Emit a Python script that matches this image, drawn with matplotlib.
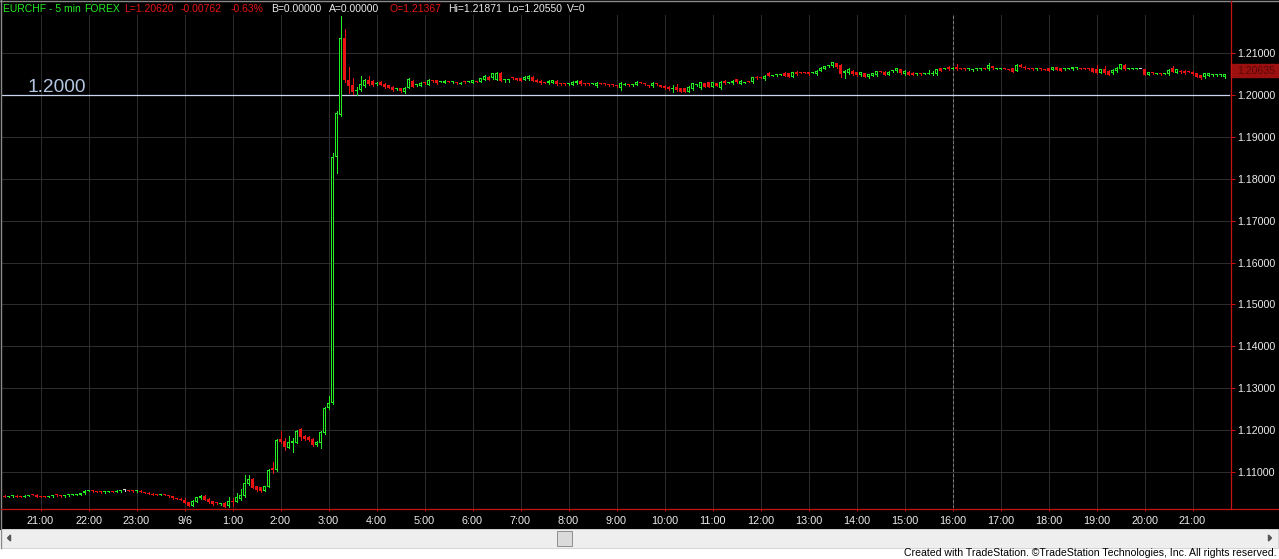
import numpy as np
import pandas as pd
import matplotlib
matplotlib.use("Agg")
import matplotlib.pyplot as plt
from matplotlib import font_manager
from matplotlib.patches import Rectangle, Polygon
from matplotlib.transforms import blended_transform_factory

W, H = 1279, 559
PIP = 0.0001
BASE = 1.1

# EURCHF 5 min bars, prices in pips above 1.1000
opens = [
    44, 42, 43, 44, 42, 41, 44, 48, 47, 42, 42, 41, 43, 46, 45, 43, 45, 46, 46, 47,
    50, 56, 57, 55, 53, 52, 53, 55, 54, 55, 57, 57, 56, 55, 56, 53, 51, 49, 47, 46,
    47, 46, 43, 38, 37, 35, 29, 20, 30, 38, 44, 36, 31, 27, 24, 28, 19, 30, 30, 36,
    44, 72, 84, 67, 65, 56, 65, 110, 105, 179, 175, 158, 170, 171, 203, 187, 184, 179, 165, 170,
    194, 253, 265, 851, 951, 1135, 1035, 1023, 1008, 1011, 1021, 1035, 1032, 1026, 1031, 1025, 1023, 1019, 1014, 1015,
    1007, 1017, 1033, 1022, 1021, 1029, 1023, 1034, 1035, 1030, 1028, 1031, 1029, 1029, 1026, 1030, 1030, 1028, 1032, 1031,
    1035, 1043, 1039, 1035, 1051, 1036, 1036, 1040, 1039, 1039, 1035, 1037, 1043, 1036, 1033, 1029, 1027, 1028, 1033, 1026,
    1026, 1025, 1023, 1027, 1033, 1026, 1026, 1026, 1020, 1027, 1026, 1024, 1024, 1021, 1015, 1024, 1024, 1022, 1023, 1029,
    1026, 1021, 1020, 1026, 1023, 1021, 1019, 1014, 1019, 1015, 1015, 1007, 1013, 1022, 1015, 1027, 1029, 1019, 1027, 1015,
    1033, 1028, 1027, 1037, 1026, 1028, 1032, 1029, 1043, 1041, 1037, 1051, 1045, 1046, 1047, 1052, 1051, 1043, 1055, 1053,
    1053, 1054, 1052, 1049, 1057, 1062, 1068, 1068, 1075, 1071, 1051, 1051, 1057, 1053, 1046, 1051, 1041, 1045, 1046, 1055,
    1055, 1048, 1056, 1056, 1060, 1049, 1055, 1052, 1049, 1050, 1050, 1050, 1049, 1049, 1063, 1062, 1067, 1062, 1067, 1063,
    1061, 1060, 1058, 1060, 1060, 1063, 1060, 1068, 1062, 1061, 1063, 1060, 1063, 1057, 1071, 1067, 1063, 1061, 1060, 1061,
    1060, 1063, 1059, 1065, 1063, 1060, 1062, 1060, 1063, 1063, 1063, 1061, 1063, 1060, 1052, 1060, 1057, 1051, 1056, 1062,
    1071, 1062, 1061, 1061, 1061, 1060, 1048, 1052, 1050, 1050, 1050, 1049, 1063, 1052, 1057, 1057, 1055, 1055, 1051, 1047,
    1041, 1045, 1046, 1046, 1046, 1041,
]
highs = [
    45, 44, 45, 45, 43, 45, 46, 49, 48, 43, 43, 44, 47, 47, 46, 46, 47, 48, 48, 51,
    57, 59, 58, 56, 54, 54, 56, 56, 57, 57, 58, 58, 57, 57, 57, 54, 52, 50, 48, 48,
    48, 47, 44, 39, 38, 38, 30, 33, 42, 46, 46, 38, 32, 29, 27, 29, 41, 38, 50, 60,
    94, 94, 86, 68, 66, 68, 107, 125, 179, 198, 182, 187, 182, 201, 206, 189, 186, 181, 174, 198,
    255, 282, 860, 960, 1187, 1156, 1065, 1040, 1019, 1044, 1037, 1044, 1034, 1029, 1032, 1027, 1024, 1020, 1017, 1016,
    1018, 1039, 1035, 1025, 1030, 1030, 1038, 1036, 1036, 1033, 1034, 1033, 1032, 1030, 1029, 1031, 1033, 1036, 1033, 1040,
    1046, 1044, 1052, 1054, 1053, 1038, 1038, 1041, 1040, 1040, 1044, 1046, 1044, 1037, 1034, 1030, 1034, 1036, 1034, 1027,
    1027, 1027, 1032, 1034, 1034, 1027, 1027, 1028, 1029, 1028, 1027, 1025, 1025, 1022, 1030, 1027, 1025, 1025, 1032, 1030,
    1027, 1022, 1030, 1027, 1024, 1022, 1020, 1023, 1025, 1016, 1016, 1020, 1028, 1025, 1031, 1028, 1030, 1030, 1028, 1032,
    1035, 1030, 1035, 1038, 1035, 1030, 1033, 1042, 1044, 1042, 1046, 1054, 1048, 1048, 1049, 1053, 1052, 1054, 1056, 1054,
    1054, 1055, 1054, 1058, 1065, 1069, 1070, 1079, 1076, 1072, 1058, 1063, 1058, 1054, 1054, 1052, 1050, 1052, 1057, 1056,
    1056, 1056, 1058, 1064, 1061, 1058, 1056, 1053, 1051, 1051, 1052, 1058, 1056, 1062, 1064, 1064, 1068, 1066, 1072, 1064,
    1062, 1062, 1060, 1062, 1062, 1064, 1075, 1069, 1064, 1063, 1064, 1061, 1064, 1072, 1072, 1068, 1064, 1062, 1062, 1062,
    1061, 1064, 1066, 1066, 1064, 1062, 1064, 1066, 1065, 1064, 1064, 1062, 1064, 1071, 1061, 1068, 1058, 1060, 1065, 1074,
    1072, 1064, 1063, 1063, 1062, 1061, 1055, 1053, 1052, 1051, 1052, 1060, 1068, 1061, 1058, 1058, 1056, 1056, 1052, 1048,
    1052, 1052, 1048, 1048, 1048, 1050,
]
lows = [
    41, 41, 42, 41, 40, 40, 43, 46, 41, 40, 40, 40, 42, 44, 42, 42, 44, 45, 45, 46,
    49, 55, 54, 52, 51, 51, 52, 53, 53, 54, 56, 55, 54, 54, 52, 50, 48, 46, 45, 45,
    45, 42, 37, 36, 34, 26, 19, 19, 29, 37, 33, 28, 23, 24, 23, 16, 18, 20, 29, 35,
    42, 70, 62, 56, 54, 55, 64, 98, 104, 170, 153, 157, 148, 170, 177, 178, 175, 163, 163, 158,
    192, 251, 262, 813, 948, 1030, 1003, 1001, 999, 1009, 1019, 1024, 1021, 1024, 1022, 1017, 1016, 1009, 1012, 1007,
    1005, 1016, 1018, 1021, 1020, 1026, 1022, 1031, 1026, 1029, 1027, 1029, 1028, 1026, 1025, 1027, 1029, 1027, 1029, 1030,
    1034, 1034, 1038, 1034, 1032, 1031, 1031, 1037, 1034, 1032, 1034, 1036, 1032, 1030, 1026, 1027, 1026, 1027, 1024, 1024,
    1024, 1024, 1022, 1026, 1024, 1024, 1023, 1025, 1019, 1025, 1024, 1021, 1021, 1019, 1012, 1023, 1021, 1021, 1022, 1027,
    1024, 1019, 1019, 1023, 1018, 1014, 1012, 1007, 1009, 1006, 1006, 1006, 1012, 1021, 1013, 1018, 1018, 1018, 1020, 1014,
    1026, 1027, 1026, 1028, 1025, 1027, 1030, 1028, 1038, 1039, 1036, 1044, 1044, 1045, 1046, 1044, 1042, 1042, 1048, 1051,
    1051, 1048, 1051, 1048, 1056, 1061, 1067, 1067, 1064, 1041, 1039, 1050, 1048, 1045, 1045, 1042, 1040, 1044, 1045, 1053,
    1047, 1047, 1055, 1055, 1050, 1048, 1047, 1047, 1048, 1048, 1049, 1049, 1048, 1048, 1056, 1061, 1059, 1061, 1059, 1061,
    1059, 1059, 1057, 1059, 1059, 1061, 1059, 1062, 1061, 1060, 1061, 1058, 1054, 1056, 1066, 1062, 1061, 1059, 1059, 1059,
    1058, 1056, 1058, 1058, 1056, 1059, 1061, 1059, 1062, 1061, 1061, 1059, 1054, 1050, 1051, 1050, 1047, 1050, 1055, 1061,
    1059, 1061, 1060, 1060, 1060, 1046, 1047, 1050, 1049, 1048, 1049, 1048, 1054, 1051, 1052, 1050, 1053, 1048, 1042, 1038,
    1040, 1044, 1045, 1045, 1045, 1040,
]
closes = [
    42, 43, 44, 42, 41, 44, 45, 47, 42, 41, 41, 43, 46, 45, 43, 45, 46, 47, 47, 50,
    56, 57, 55, 53, 52, 53, 55, 54, 56, 56, 57, 56, 55, 56, 53, 51, 49, 47, 46, 47,
    46, 43, 38, 37, 35, 28, 20, 32, 41, 44, 34, 29, 25, 26, 25, 18, 32, 29, 42, 46,
    74, 84, 63, 58, 56, 67, 105, 105, 177, 172, 160, 173, 175, 199, 184, 180, 177, 165, 172, 196,
    253, 265, 851, 956, 1135, 1035, 1020, 1007, 1012, 1025, 1035, 1025, 1023, 1027, 1023, 1019, 1017, 1011, 1015, 1009,
    1017, 1037, 1019, 1023, 1028, 1028, 1036, 1033, 1027, 1031, 1033, 1030, 1030, 1028, 1027, 1029, 1031, 1035, 1031, 1039,
    1044, 1035, 1051, 1052, 1033, 1037, 1037, 1039, 1035, 1033, 1043, 1044, 1033, 1031, 1027, 1028, 1033, 1035, 1025, 1025,
    1025, 1026, 1031, 1033, 1025, 1025, 1025, 1027, 1028, 1026, 1025, 1023, 1023, 1020, 1028, 1025, 1023, 1023, 1031, 1028,
    1025, 1020, 1028, 1025, 1019, 1015, 1013, 1015, 1010, 1007, 1007, 1019, 1027, 1023, 1029, 1019, 1019, 1029, 1021, 1031,
    1027, 1029, 1033, 1029, 1033, 1029, 1031, 1041, 1039, 1040, 1045, 1045, 1046, 1047, 1048, 1045, 1043, 1053, 1049, 1052,
    1052, 1049, 1053, 1057, 1064, 1068, 1069, 1078, 1065, 1049, 1057, 1060, 1049, 1046, 1053, 1043, 1049, 1051, 1056, 1054,
    1048, 1055, 1057, 1063, 1051, 1057, 1048, 1048, 1050, 1049, 1051, 1051, 1050, 1061, 1057, 1063, 1060, 1063, 1060, 1062,
    1060, 1061, 1059, 1061, 1061, 1062, 1070, 1063, 1063, 1062, 1062, 1059, 1055, 1071, 1067, 1063, 1062, 1060, 1061, 1060,
    1059, 1057, 1065, 1059, 1057, 1061, 1063, 1065, 1064, 1062, 1062, 1060, 1055, 1051, 1060, 1051, 1048, 1059, 1064, 1073,
    1060, 1063, 1062, 1062, 1061, 1047, 1054, 1051, 1051, 1049, 1051, 1059, 1055, 1060, 1053, 1051, 1054, 1049, 1043, 1039,
    1051, 1051, 1047, 1047, 1047, 1049,
]

first_bar = "2011-09-05 20:15"
session_break = "2011-09-06 16:00"
price_ticks = [1.11, 1.12, 1.13, 1.14, 1.15, 1.16, 1.17, 1.18, 1.19, 1.20, 1.21]
peg_level = 1.2
peg_label = "1.2000"
last_label = "1.20635"
last_label_price = 1.2057

GREEN = "#22ee22"
RED = "#e81414"
AXRED = "#c41414"
WHITE = "#ececec"

header = [
    ("EURCHF - 5 min", 3, GREEN),
    ("FOREX", 84, GREEN),
    ("L=1.20620", 124, RED),
    ("-0.00762", 181, RED),
    ("-0.63%", 231, RED),
    ("B=0.00000", 271, WHITE),
    ("A=0.00000", 329, WHITE),
    ("O=1.21367", 389, RED),
    ("Hi=1.21871", 448, WHITE),
    ("Lo=1.20550", 507, WHITE),
    ("V=0", 567, WHITE),
]
credit = "Created with TradeStation. \u00a9TradeStation Technologies, Inc. All rights reserved."

plt.rcParams["font.family"] = ["Liberation Sans", "DejaVu Sans"]
names = {f.name for f in font_manager.fontManager.ttflist}
narrow = "Liberation Sans Narrow" if "Liberation Sans Narrow" in names else "Liberation Sans"

o = BASE + np.array(opens) * PIP
h = BASE + np.array(highs) * PIP
l = BASE + np.array(lows) * PIP
c = BASE + np.array(closes) * PIP
n = len(c)
idx = np.arange(n)
times = pd.date_range(first_bar, periods=n, freq="5min")

fig = plt.figure(figsize=(W / 100, H / 100), dpi=100)
fig.patch.set_facecolor("white")

# background layer in pixel coords
bg = fig.add_axes([0, 0, 1, 1], zorder=0)
bg.set_xlim(0, W)
bg.set_ylim(H, 0)
bg.axis("off")
bg.add_patch(Rectangle((0, 0), W, 528.5, color="black"))
bg.add_patch(Rectangle((1, 528.5), W - 2, 19, facecolor="#eeeeee", edgecolor="#d4d4d4", lw=0.7))
bg.add_patch(Rectangle((557, 530.5), 15, 15, facecolor="#dadada", edgecolor="#8e8e8e", lw=0.7))
bg.add_patch(Polygon([(7.5, 538), (10.5, 535), (10.5, 541)], color="#555555"))
bg.add_patch(Polygon([(1271.5, 538), (1268.5, 535), (1268.5, 541)], color="#555555"))

# chart area, 4 px per bar
ax = fig.add_axes([2 / W, (H - 508) / H, 1228 / W, 493 / H], zorder=1)
ax.set_facecolor("black")
ax.set_xlim(-0.625, 306.375)
ymin, ymax = 1.101492, 1.218985
ax.set_ylim(ymin, ymax)
px_y = (ymax - ymin) / 493  # one pixel in price units

hour_mask = times.minute == 0
hour_idx = idx[hour_mask]
hour_labels = [f"{t.month}/{t.day}" if t.hour == 0 else f"{t.hour}:00" for t in times[hour_mask]]
ax.set_xticks(hour_idx)
ax.set_xticklabels(hour_labels)
ax.set_yticks(price_ticks)
ax.set_yticklabels([f"{p:.5f}" for p in price_ticks])
ax.yaxis.tick_right()
ax.grid(True, color="#2c2c2c", lw=0.75, zorder=0)
ax.set_axisbelow(True)
for s in ax.spines.values():
    s.set_visible(False)
ax.tick_params(axis="y", length=3.6, width=0.75, color=AXRED, labelcolor=WHITE,
               labelsize=7.7, pad=1.5)
ax.tick_params(axis="x", length=2.5, width=0.75, color=AXRED, labelcolor=WHITE,
               labelsize=7.8, pad=3)

brk = idx[times == pd.Timestamp(session_break)][0]
ax.axvline(brk, color="#7a7a7a", lw=0.75, dashes=(3, 2), zorder=1)

# peg line and label
ax.axhline(peg_level, color="#c9d6f2", lw=0.9, zorder=2)
blend = blended_transform_factory(ax.transAxes, ax.transData)
ax.annotate(peg_label, xy=(0.0205, peg_level), xycoords=blend, xytext=(0, 1.8),
            textcoords="offset points", va="baseline", ha="left",
            color="#b4c6e2", fontsize=13.8)

# candles: hollow green up bars, filled red down bars
up = c > o
down = c < o
col = [GREEN if u else (RED if d else "#d8d8d8") for u, d in zip(up, down)]
bot = np.minimum(o, c)
body = np.maximum(np.abs(c - o), px_y)
ax.vlines(idx, l, h, colors=col, lw=0.72, zorder=3, antialiased=False)
ax.bar(idx, body, bottom=bot, width=0.75, color=col, linewidth=0,
       zorder=4, antialiased=False)
hollow = up & (body > 2.5 * px_y)
ax.bar(idx[hollow], body[hollow] - 2 * px_y, bottom=bot[hollow] + px_y, width=0.25,
       color="black", linewidth=0, zorder=5, antialiased=False)

# overlay: axis lines, header, price box
ov = fig.add_axes([0, 0, 1, 1], zorder=6)
ov.set_xlim(0, W)
ov.set_ylim(H, 0)
ov.axis("off")
ov.patch.set_alpha(0)
ov.plot([0, W], [0.5, 0.5], color="#8a8a8a", lw=1)
ov.plot([0.5, 0.5], [0, 548], color="#8a8a8a", lw=1)
ov.plot([1230.5, 1230.5], [1, 508.5], color=AXRED, lw=0.9)
ov.plot([1, 1278], [508.5, 508.5], color=AXRED, lw=0.9)

y_box = 52.7 + (1.21 - last_label_price) * 4196
ov.add_patch(Rectangle((1231, y_box - 6.5), 48, 13, color="#9c1010"))
ov.text(1237, y_box, last_label, color="#5a0808", fontsize=7.6, va="center", ha="left")

for s, x, colr in header:
    ov.text(x, 9.5, s, color=colr, fontsize=7.5, va="center", ha="left")

ov.text(1277, 553, credit, color="black", fontsize=7.6,
        family=narrow, va="center", ha="right")

fig.savefig("out.png", dpi=100, facecolor=fig.get_facecolor())
